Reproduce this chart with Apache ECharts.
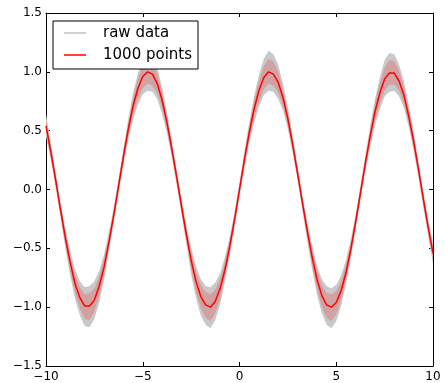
<!DOCTYPE html>
<html>
<head>
<meta charset="utf-8">
<script src="https://cdn.jsdelivr.net/npm/echarts@6/dist/echarts.min.js"></script>
<style>html,body{margin:0;padding:0;background:#fff}#c{width:445px;height:383px}</style>
</head>
<body>
<div id="c"></div>
<script>
// sample positions along x
const xs = [
 -10,-9.75,-9.5,-9.25,-9,-8.75,-8.5,-8.25,-8,-7.75,
 -7.5,-7.25,-7,-6.75,-6.5,-6.25,-6,-5.75,-5.5,-5.25,
 -5,-4.75,-4.5,-4.25,-4,-3.75,-3.5,-3.25,-3,-2.75,
 -2.5,-2.25,-2,-1.75,-1.5,-1.25,-1,-0.75,-0.5,-0.25,
 0,0.25,0.5,0.75,1,1.25,1.5,1.75,2,2.25,
 2.5,2.75,3,3.25,3.5,3.75,4,4.25,4.5,4.75,
 5,5.25,5.5,5.75,6,6.25,6.5,6.75,7,7.25,
 7.5,7.75,8,8.25,8.5,8.75,9,9.25,9.5,9.75,
 10
];
// red "1000 points" curve
const fit = [
 0.54,0.32,0.08,-0.17,-0.41,-0.62,-0.80,-0.92,-0.99,-0.99,
 -0.94,-0.82,-0.66,-0.45,-0.22,0.03,0.28,0.51,0.71,0.86,
 0.96,1.00,0.98,0.90,0.76,0.57,0.35,0.11,-0.14,-0.38,
 -0.60,-0.78,-0.91,-0.98,-1.00,-0.95,-0.84,-0.68,-0.48,-0.25,
 0.00,0.25,0.48,0.68,0.84,0.95,1.00,0.98,0.91,0.78,
 0.60,0.38,0.14,-0.11,-0.35,-0.57,-0.76,-0.90,-0.98,-1.00,
 -0.96,-0.86,-0.71,-0.51,-0.28,-0.03,0.22,0.45,0.66,0.82,
 0.94,0.99,0.99,0.92,0.80,0.62,0.41,0.17,-0.08,-0.32,
 -0.54
];
// raw data (grey) spread above / below the curve
const rawUp = [
 0.10,0.08,0.07,0.07,0.08,0.10,0.12,0.14,0.16,0.17,
 0.16,0.13,0.11,0.09,0.07,0.06,0.07,0.09,0.11,0.13,
 0.15,0.17,0.16,0.14,0.11,0.09,0.07,0.06,0.07,0.09,
 0.11,0.13,0.15,0.16,0.17,0.16,0.13,0.11,0.08,0.07,
 0.06,0.07,0.09,0.11,0.13,0.16,0.18,0.17,0.15,0.12,
 0.10,0.08,0.07,0.06,0.08,0.10,0.12,0.14,0.16,0.16,
 0.15,0.13,0.11,0.09,0.07,0.06,0.07,0.09,0.11,0.13,
 0.16,0.17,0.16,0.14,0.12,0.10,0.08,0.07,0.06,0.07,
 0.09
];
const rawDown = [
 0.09,0.07,0.06,0.07,0.09,0.11,0.13,0.15,0.17,0.18,
 0.16,0.14,0.11,0.08,0.07,0.07,0.08,0.09,0.12,0.14,
 0.15,0.16,0.15,0.13,0.12,0.09,0.08,0.07,0.07,0.08,
 0.12,0.14,0.16,0.17,0.18,0.16,0.14,0.10,0.08,0.07,
 0.07,0.08,0.09,0.12,0.14,0.15,0.16,0.15,0.14,0.11,
 0.09,0.07,0.06,0.07,0.09,0.11,0.13,0.15,0.17,0.18,
 0.16,0.13,0.10,0.08,0.07,0.06,0.07,0.09,0.12,0.14,
 0.15,0.16,0.15,0.13,0.11,0.09,0.08,0.07,0.07,0.08,
 0.09
];
// denser inner spread (pinkish)
const pinkUp = [
 0.06,0.05,0.04,0.04,0.05,0.06,0.07,0.09,0.10,0.11,
 0.10,0.08,0.07,0.05,0.04,0.04,0.04,0.05,0.07,0.08,
 0.10,0.11,0.10,0.09,0.07,0.05,0.04,0.04,0.04,0.05,
 0.07,0.08,0.10,0.11,0.11,0.10,0.08,0.06,0.05,0.04,
 0.04,0.04,0.05,0.07,0.08,0.10,0.11,0.11,0.09,0.07,
 0.06,0.05,0.04,0.04,0.05,0.06,0.08,0.09,0.10,0.11,
 0.10,0.08,0.07,0.05,0.04,0.04,0.04,0.05,0.07,0.08,
 0.10,0.11,0.10,0.09,0.07,0.06,0.05,0.04,0.04,0.04,
 0.05
];
const pinkDown = [
 0.05,0.04,0.04,0.04,0.05,0.07,0.08,0.09,0.11,0.12,
 0.10,0.09,0.07,0.05,0.04,0.04,0.05,0.06,0.07,0.09,
 0.10,0.10,0.10,0.08,0.07,0.06,0.05,0.04,0.04,0.05,
 0.07,0.09,0.10,0.11,0.12,0.10,0.09,0.06,0.05,0.04,
 0.04,0.05,0.06,0.07,0.09,0.10,0.10,0.10,0.09,0.07,
 0.05,0.04,0.04,0.04,0.05,0.07,0.08,0.10,0.11,0.12,
 0.10,0.08,0.06,0.05,0.04,0.04,0.05,0.06,0.07,0.09,
 0.10,0.10,0.10,0.08,0.07,0.06,0.05,0.04,0.04,0.04,
 0.05
];
const xTicks = [-10, -5, 0, 5, 10];
const yTicks = [-1.5, -1.0, -0.5, 0.0, 0.5, 1.0, 1.5];

const FONT = 'DejaVu Sans';
const minus = s => s.replace('-', '\u2212');

const axisCommon = {
  axisLine: { show: true, onZero: false, lineStyle: { color: '#000', width: 1 } },
  axisTick: { show: true, inside: true, length: 4, lineStyle: { color: '#000', width: 1 } },
  splitLine: { show: false }
};

// band polygon: upper edge left->right, lower edge right->left, through the axis scales
function band(lo, hi, color, z, name) {
  return {
    type: 'custom', name: name, silent: true, z: z, clip: true,
    data: [[xs[0], fit[0]]],
    itemStyle: { color: color },
    renderItem: function (params, api) {
      const pts = [];
      for (let i = 0; i < xs.length; i++) pts.push(api.coord([xs[i], fit[i] + hi[i]]));
      for (let i = xs.length - 1; i >= 0; i--) pts.push(api.coord([xs[i], fit[i] - lo[i]]));
      return { type: 'polygon', shape: { points: pts }, style: { fill: color } };
    }
  };
}

const chart = echarts.init(document.getElementById('c'), null, { renderer: 'canvas' });
chart.setOption({
  animation: false,
  backgroundColor: '#fff',
  grid: { left: 46, right: 12, top: 13, bottom: 17, containLabel: false },
  xAxis: [
    Object.assign({ type: 'value', position: 'bottom', min: xTicks[0], max: xTicks[xTicks.length - 1], interval: 5,
      axisLabel: { color: '#000', fontSize: 12, fontFamily: FONT, margin: 5, showMinLabel: true, showMaxLabel: true,
        formatter: v => minus(String(v)) } }, axisCommon),
    Object.assign({ type: 'value', position: 'top', min: xTicks[0], max: xTicks[xTicks.length - 1], interval: 5,
      axisLabel: { show: false } }, axisCommon)
  ],
  yAxis: [
    Object.assign({ type: 'value', position: 'left', min: yTicks[0], max: yTicks[yTicks.length - 1], interval: 0.5,
      axisLabel: { color: '#000', fontSize: 12, fontFamily: FONT, margin: 4, showMinLabel: true, showMaxLabel: true,
        formatter: v => minus(v.toFixed(1)) } }, axisCommon),
    Object.assign({ type: 'value', position: 'right', min: yTicks[0], max: yTicks[yTicks.length - 1], interval: 0.5,
      axisLabel: { show: false } }, axisCommon)
  ],
  legend: {
    orient: 'vertical', left: 53, top: 21,
    backgroundColor: '#fff', borderColor: '#000', borderWidth: 1, borderRadius: 0,
    padding: [4, 6, 6, 11],
    itemGap: 6, itemWidth: 22, itemHeight: 1.5, icon: 'rect',
    textStyle: { fontSize: 15, fontFamily: FONT, color: '#000', lineHeight: 16, padding: [0, 0, 0, 12] },
    data: [
      { name: 'raw data', itemStyle: { color: '#c0c0c0' } },
      { name: '1000 points', itemStyle: { color: '#ff0000' } }
    ]
  },
  series: [
    band(rawDown, rawUp, '#c9c9c9', 1, 'raw data'),
    band(pinkDown, pinkUp, '#d2a2a2', 2, 'raw band'),
    { name: '1000 points', type: 'line', symbol: 'none', z: 3,
      data: xs.map((x, i) => [x, fit[i]]),
      lineStyle: { color: '#ff0000', width: 1.5 }, itemStyle: { color: '#ff0000' } }
  ]
});
</script>
</body>
</html>
